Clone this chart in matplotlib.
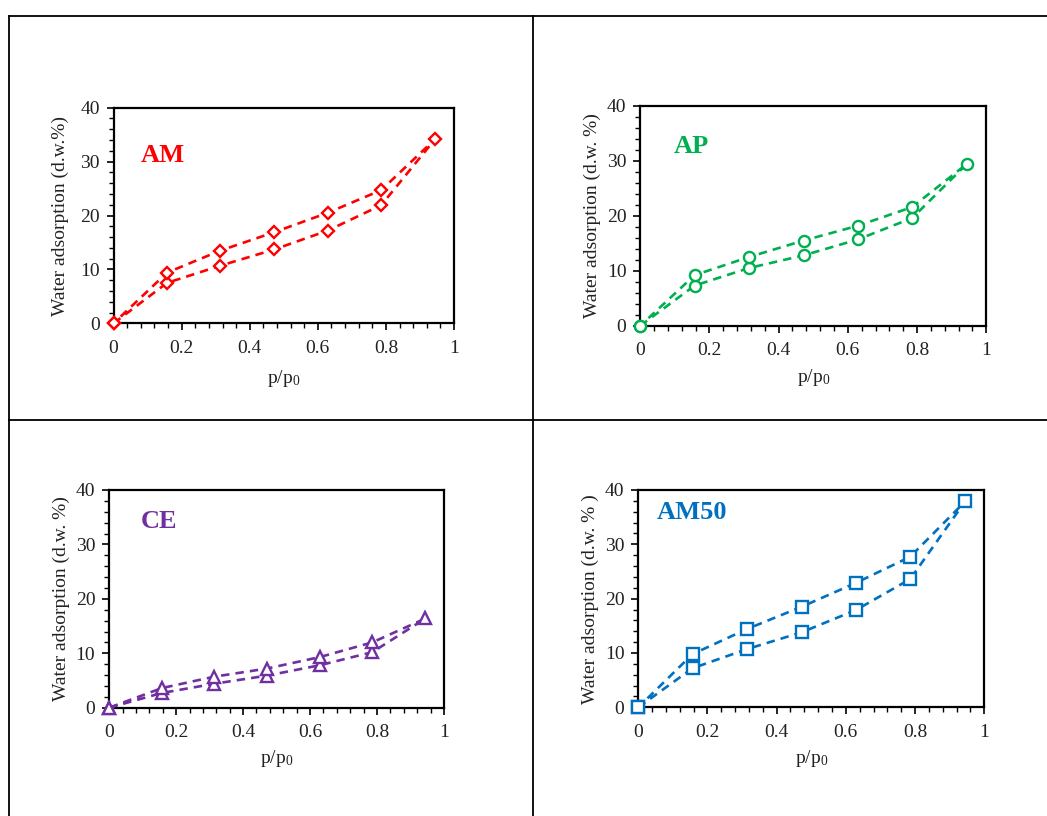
import matplotlib
matplotlib.use("Agg")
import matplotlib.pyplot as plt
from matplotlib.lines import Line2D
from matplotlib.ticker import MultipleLocator

plt.rcParams['font.family'] = ['Liberation Serif', 'DejaVu Serif']
plt.rcParams['mathtext.fontset'] = 'custom'
plt.rcParams['mathtext.rm'] = 'Liberation Serif'
plt.rcParams['mathtext.it'] = 'Liberation Serif:italic'

W, H = 1047, 816

# relative pressure (loop: adsorption up, desorption back)
x_loop = [0, 0.157, 0.314, 0.472, 0.629, 0.786, 0.945, 0.786, 0.629, 0.472, 0.314, 0.157, 0]

am_ads = [0, 7.5, 10.7, 13.7, 17.2, 21.9, 34.2]
am_des = [24.7, 20.5, 16.9, 13.5, 9.4, 0]

ap_ads = [0, 7.3, 10.5, 12.8, 15.7, 19.6, 29.5]
ap_des = [21.6, 18.2, 15.5, 12.5, 9.2, 0]

ce_ads = [0, 2.7, 4.4, 5.9, 7.8, 10.2, 16.4]
ce_des = [12.0, 9.3, 7.2, 5.7, 3.6, 0]

am50_ads = [0, 7.2, 10.7, 13.8, 17.9, 23.6, 37.9]
am50_des = [27.7, 22.9, 18.5, 14.4, 9.8, 0]

names = ["AM", "AP", "CE", "AM50"]
ylabels = ["Water adsorption (d.w.%)", "Water adsorption (d.w. %)",
           "Water adsorption (d.w. %)", "Water adsorption (d.w. % )"]
colors = ["#FF0000", "#00B050", "#7030A0", "#0070C0"]
markers = ["D", "o", "^", "s"]
msizes = [6, 8, 8, 8]
series = [am_ads + am_des, ap_ads + ap_des, ce_ads + ce_des, am50_ads + am50_des]

# pixel boxes (left, right, top, bottom)
boxes = [(113.6, 454.0, 107.7, 323.3),
         (640.3, 986.2, 106.0, 325.7),
         (109.2, 443.9, 490.0, 707.7),
         (638.3, 984.2, 490.0, 707.3)]
ylab_x = [-0.157, -0.139, -0.143, -0.138]
xlab_y = [-0.254, -0.238, -0.232, -0.235]
name_pos = [(0.079, 0.78), (0.097, 0.815), (0.094, 0.854), (0.054, 0.896)]

fig = plt.figure(figsize=(W / 100, H / 100), dpi=100)
fig.patch.set_facecolor("white")

# table grid lines
def fline(x0, y0, x1, y1):
    fig.add_artist(Line2D([x0 / W, x1 / W], [1 - y0 / H, 1 - y1 / H],
                          color="black", lw=1.3, transform=fig.transFigure))

fline(9, 16, W, 16)
fline(9, 420, W, 420)
fline(9, 16, 9, H)
fline(533, 16, 533, H)

for i in range(4):
    l, r, t, b = boxes[i]
    ax = fig.add_axes([l / W, 1 - b / H, (r - l) / W, (b - t) / H])
    ax.plot(x_loop, series[i], linestyle=(0, (3.2, 2.3)), color=colors[i], lw=1.9,
            marker=markers[i], markersize=msizes[i], markerfacecolor="white",
            markeredgecolor=colors[i], markeredgewidth=1.7, clip_on=False, zorder=3)
    ax.set_xlim(0, 1)
    ax.set_ylim(0, 40)
    ax.xaxis.set_major_locator(MultipleLocator(0.2))
    ax.xaxis.set_minor_locator(MultipleLocator(0.04))
    ax.yaxis.set_major_locator(MultipleLocator(10))
    ax.yaxis.set_minor_locator(MultipleLocator(2))
    ax.set_xticks([0, 0.2, 0.4, 0.6, 0.8, 1.0])
    ax.set_xticklabels(["0", "0.2", "0.4", "0.6", "0.8", "1"])
    for s in ax.spines.values():
        s.set_linewidth(1.6)
    ax.tick_params(which="major", direction="out", length=5, width=1.2,
                   labelsize=14, colors="black", labelcolor="#222222")
    ax.tick_params(which="minor", direction="out", length=3.5, width=1.0)
    ax.tick_params(axis="x", which="major", pad=7)
    ax.tick_params(axis="y", which="major", pad=5)
    ax.set_ylabel(ylabels[i], fontsize=14, va="center", color="#222222")
    ax.yaxis.set_label_coords(ylab_x[i], 0.5)
    ax.set_xlabel("p/p$_0$", fontsize=14, va="center", color="#222222")
    ax.xaxis.set_label_coords(0.5, xlab_y[i])
    ax.text(name_pos[i][0], name_pos[i][1], names[i], transform=ax.transAxes,
            fontsize=19, fontweight="bold", color=colors[i], ha="left", va="center")

fig.savefig("out.png", dpi=100, facecolor="white")
